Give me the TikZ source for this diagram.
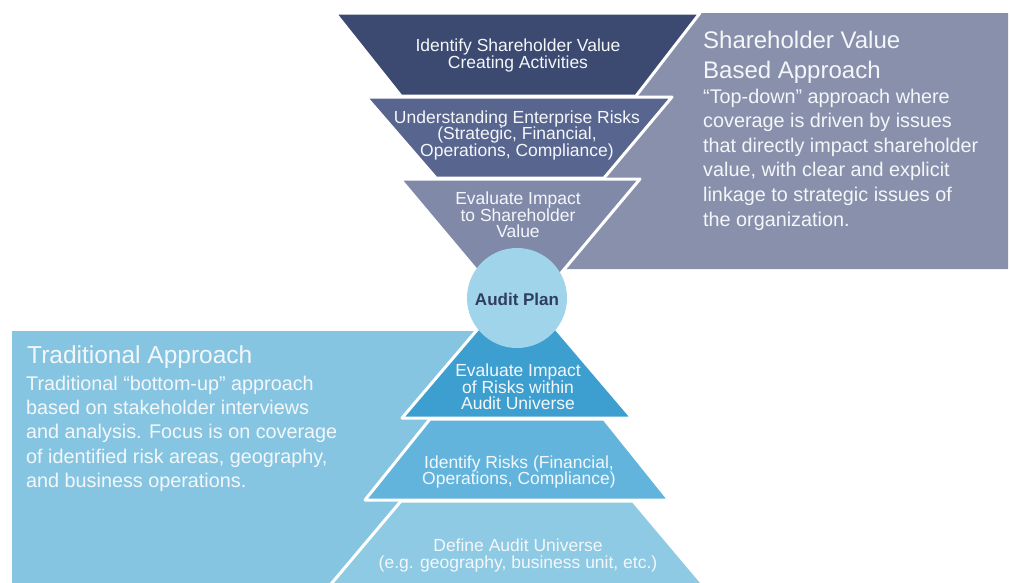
\documentclass[tikz,border=0pt]{standalone}
\usepackage{fontspec}
\setmainfont{Liberation Sans}
\definecolor{bandone}{HTML}{3C4A72}
\definecolor{bandtwo}{HTML}{58658F}
\definecolor{bandthree}{HTML}{8189A9}
\definecolor{shgrey}{HTML}{8990AC}
\definecolor{circfill}{HTML}{A0D4EA}
\definecolor{banda}{HTML}{3D9FCF}
\definecolor{bandb}{HTML}{62B4DC}
\definecolor{bandc}{HTML}{8ECAE4}
\definecolor{tradblue}{HTML}{86C5E1}
\definecolor{plantext}{HTML}{2F3D63}
\definecolor{lighttext}{HTML}{F4F7FA}
\begin{document}
\begin{tikzpicture}[x=1pt,y=-1pt,
  bandshape/.style={draw=white, line width=3pt, line join=round},
  bandtxt/.style={anchor=base, inner sep=0pt, text=lighttext},
  boxtxt/.style={anchor=base west, inner sep=0pt, text=lighttext},
  planshape/.style={circle, fill=circfill, minimum size=100pt, inner sep=0pt, text=plantext}]
\useasboundingbox (0,0) rectangle (1010,582);
\fill[white] (0,0) rectangle (1010,582);
\begin{scope}
\clip (0,0) rectangle (1010,582);
% background boxes
\fill[shgrey] (700,13) -- (1008,13) -- (1008,269) -- (564.5,269) -- (640,179) -- (604,178) -- (672,97) -- (636,96) -- cycle;
\fill[tradblue] (12,331) -- (476,331) -- (402,418) -- (430,419) -- (365,500) -- (401,501) -- (326,590) -- (12,590) -- cycle;
% top funnel
\filldraw[bandshape, fill=bandone] (335,13) -- (700,13) -- (636,96) -- (401,96) -- cycle;
\filldraw[bandshape, fill=bandtwo] (366,97) -- (672,97) -- (604,178) -- (436,178) -- cycle;
\filldraw[bandshape, fill=bandthree] (400,179) -- (640,179) -- (520,322) -- cycle;
% bottom pyramid
\filldraw[bandshape, fill=banda] (517,283) -- (632,418) -- (402,418) -- cycle;
\filldraw[bandshape, fill=bandb] (430,419) -- (604,419) -- (669,500) -- (365,500) -- cycle;
\filldraw[bandshape, fill=bandc] (401,501) -- (633,501) -- (708,590) -- (326,590) -- cycle;
\end{scope}
% centre circle
\node[planshape] (plan) at (517,298) {};
\node[anchor=base, inner sep=0pt, text=plantext, font=\fontsize{17}{17}\selectfont\bfseries] (plantxt) at (517,305) {Audit Plan};
% band texts
\node[bandtxt] (t1) at (518,51.5) {\parbox[t]{300pt}{\centering\fontsize{17.5}{16.5}\selectfont Identify Shareholder Value\\Creating Activities}};
\node[bandtxt] (t2) at (517,123) {\parbox[t]{300pt}{\centering\fontsize{17.5}{16.5}\selectfont Understanding Enterprise Risks\\(Strategic, Financial,\\Operations, Compliance)}};
\node[bandtxt] (t3) at (518,204.5) {\parbox[t]{300pt}{\centering\fontsize{17.5}{16.5}\selectfont Evaluate Impact\\to Shareholder\\Value}};
\node[bandtxt] (ta) at (518,376.5) {\parbox[t]{300pt}{\centering\fontsize{17.5}{16.5}\selectfont Evaluate Impact\\of Risks within\\Audit Universe}};
\node[bandtxt] (tb) at (519,468) {\parbox[t]{300pt}{\centering\fontsize{17.5}{16.5}\selectfont Identify Risks (Financial,\\Operations, Compliance)}};
\node[bandtxt] (tc) at (518,551.5) {\parbox[t]{400pt}{\centering\fontsize{17.5}{16.5}\selectfont Define Audit Universe\\(e.g. geography, business unit, etc.)}};
% shareholder value box text
\node[boxtxt] (shhead) at (703,48) {\parbox[t]{300pt}{\raggedright\fontsize{24}{30}\selectfont Shareholder Value\\Based Approach}};
\node[boxtxt] (shbody) at (703,103) {\parbox[t]{300pt}{\raggedright\fontsize{19.8}{24.6}\selectfont “Top-down” approach where\\coverage is driven by issues\\that directly impact shareholder\\value, with clear and explicit\\linkage to strategic issues of\\the organization.}};
% traditional box text
\node[boxtxt] (trhead) at (27,363) {\fontsize{24.5}{30}\selectfont Traditional Approach};
\node[boxtxt] (trbody) at (26,390) {\parbox[t]{360pt}{\raggedright\fontsize{19.8}{24.4}\selectfont Traditional “bottom-up” approach\\based on stakeholder interviews\\and analysis. Focus is on coverage\\of identified risk areas, geography,\\and business operations.}};
\end{tikzpicture}
\end{document}
